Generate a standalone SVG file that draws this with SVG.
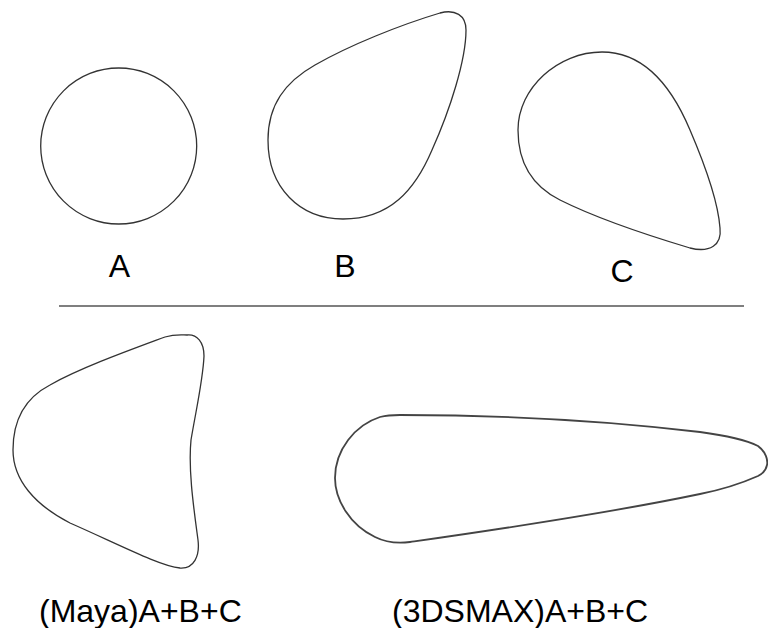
<svg xmlns="http://www.w3.org/2000/svg" width="768" height="628" viewBox="0 0 768 628">
<style>
.shape{fill:none;stroke:#333;stroke-width:1.3;stroke-linejoin:round}
.thick{fill:none;stroke:#444;stroke-width:1.8;stroke-linejoin:round}
.lbl{font-family:"Liberation Sans",Arial,sans-serif;font-size:32px;fill:#000}
</style>
<rect width="768" height="628" fill="#fff"/>
<g id="shapeA">
<circle class="shape" cx="118.7" cy="146" r="78"/>
<text class="lbl" x="119.5" y="277" text-anchor="middle">A</text>
</g>
<g id="shapeB">
<path class="shape" d="M343 219 C300 219 268 188 268 140 C268 105 285 82 315 65 C350 45 400 25 440 13 C455 9 466 15 466 30 C466 60 450 110 432 150 C415 190 390 219 343 219 Z"/>
<text class="lbl" x="345" y="277" text-anchor="middle">B</text>
</g>
<g id="shapeC">
<path class="shape" d="M602 52 C558 52 518 88 518 130 C518 160 530 185 560 200 C600 220 650 236 690 248 C710 253 722 245 720 228 C718 200 705 165 690 130 C674 92 648 52 602 52 Z"/>
<text class="lbl" x="622" y="282" text-anchor="middle">C</text>
</g>
<g id="connectors">
<line x1="59" y1="306" x2="744" y2="306" stroke="#555" stroke-width="1.5"/>
</g>
<g id="maya">
<path class="shape" d="M187 335 C197 334 204 342 204 356 C203 380 196 410 191 440 C188 470 194 510 198 540 C200 556 194 569 180 568 C160 566 120 545 70 523 C35 505 13 480 13 450 C13 420 25 398 50 385 C80 368 130 350 165 337 C175 334 182 335 187 335 Z"/>
<text class="lbl" x="39" y="622">(Maya)A+B+C</text>
</g>
<g id="max">
<path class="thick" d="M400 415 C500 415 600 420 700 432 C730 436 750 442 758 446 C766 452 768 460 767 465 C766 470 762 474 758 476 C740 484 720 490 700 494 C600 515 480 532 410 542 C395 544 385 542 375 537 C350 525 335 500 335 478 C335 450 355 425 380 417 C388 415 395 415 400 415 Z"/>
<text class="lbl" x="392" y="622">(3DSMAX)A+B+C</text>
</g>
</svg>
